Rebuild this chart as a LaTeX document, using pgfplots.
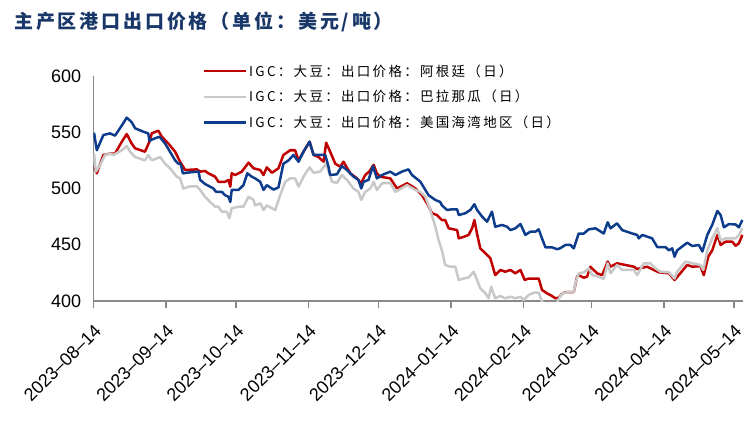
\documentclass[border=0pt]{standalone}
\usepackage{fontspec}
\setmainfont{Liberation Sans}
\newfontfamily\cjk{Noto Sans CJK SC}
\usepackage{pgfplots}
\pgfplotsset{compat=1.18}
\definecolor{arg}{RGB}{192,0,0}
\definecolor{par}{RGB}{200,200,200}
\definecolor{usg}{RGB}{14,60,140}
\definecolor{axgray}{RGB}{137,137,137}
\definecolor{ttl}{RGB}{25,55,105}

\begin{document}
\begin{tikzpicture}
\useasboundingbox (-93.3bp,-127bp) rectangle (660.7bp,301bp);
\node[anchor=west, inner sep=0pt, text=ttl] at (-79.3bp,279bp)
  {\cjk\bfseries\fontsize{19bp}{19bp}\selectfont\addfontfeature{LetterSpace=15}主产区港口出口价格（单位：美元/吨）};
\begin{axis}[
  scale only axis, width=650bp, height=225bp,
  xmin=0, xmax=278, ymin=400, ymax=600,
  axis x line*=bottom, axis y line*=left,
  axis line style={axgray, line width=1.5bp},
  xtick={0,31,61,92,122,153,184,213,244,274},
  xticklabels={2023–08–14,2023–09–14,2023–10–14,2023–11–14,2023–12–14,
    2024–01–14,2024–02–14,2024–03–14,2024–04–14,2024–05–14},
  ytick={400,450,500,550,600},
  tick align=outside, major tick length=7bp,
  xtick style={axgray, line width=1.5bp},
  ytick style={draw=none},
  xticklabel style={yshift=-15bp, rotate=45, anchor=north east, inner sep=0pt,
    font=\fontsize{18bp}{18bp}\selectfont},
  yticklabel style={inner sep=0pt, xshift=-5bp,
    font=\fontsize{18bp}{18bp}\selectfont},
  /pgf/number format/assume math mode=true,
  every axis plot/.append style={line width=2.5bp, line join=round},
  legend image code/.code={\draw[#1, line width=2.5bp] (0bp,0bp) -- (42bp,0bp);},
  legend cell align=left,
  legend style={at={(axis description cs:0.168,1.06)}, anchor=north west,
    draw=none, fill=none, inner sep=0pt, row sep=8.5bp,
    font=\cjk\fontsize{13.5bp}{13.5bp}\selectfont\addfontfeature{LetterSpace=17}},
]
% Argentina
\addplot[arg] coordinates {
(0.3,519.4) (1.5,513.5) (4.3,529.8) (7.1,531) (9.3,531) (12.2,541.6) (14.3,548.4)
(16.4,540) (17.9,535.7) (22.1,532.7) (24.3,543) (25,549) (27.8,551.4) (29.3,546)
(32.1,540) (35,532.7) (37.1,523.8) (39.3,516.4) (44.3,517) (45.7,515) (47.8,515.6)
(49.2,513.5) (52.1,510.5) (53.5,506) (56.4,506) (57.8,507.6) (58.6,501.6) (59.2,513.5)
(60.7,512) (63.5,515) (66.4,523) (68.5,518) (71.4,516.4) (72.8,512) (74.2,518.8)
(76.4,514) (79.2,518) (81.3,529.8) (84.2,534) (86.3,534) (87.8,525) (89.9,532.7)
(92.5,541.6) (94.2,529.8) (96.3,528) (98.5,523.8) (99.6,540.7) (101.3,532.7)
(103.5,522) (105.6,519.4) (107,523.8) (109.9,513.5) (112.8,509) (114.5,504.6)
(116.3,512) (118,515) (119.9,521) (121.3,513.5) (122.7,510.5) (127,509) (129.9,500)
(134.2,504.6) (136.3,502) (137.7,500) (140.6,494) (142.7,486.8) (144.9,478) (147,476.4)
(149.1,472) (150.5,472) (152,464.6) (154.1,463.7) (155.6,463) (156.3,455.7) (158.4,457)
(160.5,458.7) (162,464.6) (163,472) (164.1,460) (165.5,446.8) (167.7,442.4) (169.8,438)
(171.9,423) (174.1,427.6) (176.2,426) (178.4,427.6) (180.5,424.6) (182.7,427.6)
(184.5,418.7) (186.2,420) (188.4,420) (190.5,420) (191.9,409.8) (194.1,406.8)
(196.2,404.4) (197.6,402.4) (199.1,403) (200.5,406.8) (202.6,408) (205.5,408)
(206.9,421.6) (207.6,423) (209.8,420.7) (211.2,421.6) (212.6,430.5) (214,427.6)
(215.5,424.6) (217.6,423) (220,435) (221.2,430.5) (224,433.5) (226.2,432.6)
(231.2,430.5) (232.6,428.4) (234.8,429.6) (236.9,430.5) (239.7,427.6) (241.9,425.5)
(246.2,424.6) (248.6,418.7) (250.4,423) (254,432) (256.2,430.5) (259.7,431) (261.1,423)
(263,439.4) (264.7,445) (266.9,458.7) (268.3,449.8) (270.4,452.7) (273.3,452.7)
(274.7,449) (276.1,451.3) (277.6,458.7)
};
\addlegendentry{IGC：大豆：出口价格：阿根廷（日）}
% Paraguay
\addplot[par] coordinates {
(0.3,531) (1.1,515) (2.9,521) (5,529.8) (7.1,531) (8.6,529.8) (12.2,534) (14.3,537.8)
(15.7,532.7) (17.9,528) (22.1,525) (23.5,529.8) (25,525) (28.6,528) (30.7,522)
(32.8,518) (35.7,510.5) (37.1,509) (38.5,500) (41.4,502) (44.3,502) (45.7,498.7)
(47.8,492.7) (50,488) (52.1,483.8) (53.5,483.8) (55,479.4) (57.1,479.4) (58.2,473.5)
(59.2,482.4) (62.1,483.8) (64.2,483.8) (66.4,492.7) (68.5,489.8) (69.2,485)
(71.4,486.8) (72.8,480.9) (74.2,485) (77.8,480.9) (79.9,494) (82.1,506) (84.2,509)
(86.3,509) (87.8,501.6) (89.9,510.5) (92.5,518.8) (94.2,514) (97,515) (99.6,522)
(102.1,506) (104.2,505) (106.3,512) (108.5,507.6) (111.3,500) (113.4,497) (114.6,489.8)
(116.3,497) (118.5,500) (119.9,506) (121.3,498.7) (123.5,504.6) (127,505) (129.2,497)
(134.2,503) (137.7,498.7) (139.9,497) (142,492.7) (144.1,480.9) (146.3,466) (147.7,454)
(149.1,445) (150.5,432) (152.7,430.5) (154.8,430.5) (156.3,418.7) (158.4,420)
(160.5,421) (162.7,426) (164.1,418.7) (165.5,411.3) (167.7,406.8) (169.1,402.4)
(170.2,412.7) (171.9,402.4) (174.1,404.4) (176.2,402.4) (178.4,403.8) (180.5,402.4)
(182.7,403.8) (184.1,400.9) (186.2,405.3) (188.4,407.4) (190.5,407.4) (191.9,399.4)
(193.4,396) (196.2,395) (198,397) (199.1,402) (200.5,406.8) (203.3,408) (205.5,408)
(206.2,415.7) (207.6,424.6) (209.8,425.5) (211.9,429) (213.4,423) (216.2,421.6)
(218.3,419.6) (220,433.5) (221.2,424.6) (224,432) (226.2,427.6) (231.2,427.6)
(232.6,423) (235.4,433.5) (238.3,433.5) (240.4,429) (242.6,426) (246.2,425.5)
(248.6,420) (249.7,426) (253.3,435) (256.2,433.5) (259.7,432) (260.9,427.6)
(262.6,445) (264.7,455.7) (266.9,464.6) (268.3,454) (270.4,455.7) (274.7,455.7)
(276.1,458.7) (277.6,464.6)
};
\addlegendentry{IGC：大豆：出口价格：巴拉那瓜（日）}
% US Gulf
\addplot[usg] coordinates {
(0.3,549.6) (1.5,534) (4.3,547.5) (7.1,549) (9.3,547) (12.2,556) (14.3,563) (16.4,559)
(17.9,553.5) (21.4,550.5) (23.5,549) (24,542.5) (26.4,544.6) (28.3,546) (30.7,540)
(32.8,532.7) (35,525) (36.4,522) (37.4,522) (38.3,513.5) (41.4,514.4) (45,515)
(45.7,507.6) (47.8,504) (51.4,500) (52.5,497) (55,497) (56.4,494) (57.8,492.7)
(58.6,488) (59.2,498.7) (62.1,498.7) (64.2,503) (65.9,513.5) (67.8,510.5) (69.2,509)
(71.4,506) (72.8,498.7) (74.2,503) (77.1,499) (79.2,501) (81.3,522) (83.5,525)
(85.6,529.8) (87.8,523.8) (89.9,532.7) (92.5,541.6) (94.2,529.8) (96.3,529.8)
(99.2,529.8) (100.6,519.4) (101.3,512) (104.2,512.6) (106.3,520) (108.5,516.4)
(111.3,510.5) (113.4,507.6) (114.6,500) (115.6,506) (117.7,507.6) (119.6,520)
(121.3,509) (123.5,512) (127,515) (129.2,512) (132,515) (134.8,517) (136.3,512)
(139.9,506) (143.4,494) (146.3,489.8) (148.4,488) (149.1,485) (151.3,480.9)
(153.4,481.5) (155.6,481.5) (156.3,476.4) (159.1,478) (161.3,481) (163,486) (164.1,481)
(166.3,475) (168.4,470.5) (170.5,479.4) (171.9,466) (174.8,467.6) (177,466) (178.4,463)
(180.5,464.6) (182.7,468.4) (184.8,458.7) (186.9,461.6) (189.1,461.6) (190.5,463.7)
(191.9,455.7) (193.4,447.7) (196.2,447.7) (198.4,446) (199.8,447) (201.9,449.8)
(204.1,449.8) (205.5,446.8) (207.6,460) (209.8,460) (211.9,463.7) (214.8,464.6)
(218.3,460) (220,470) (221.2,464.6) (224,469) (226.2,463) (230.5,460) (232.6,458.7)
(233.3,455.7) (234.8,458.7) (239,455.7) (241.2,448) (244.7,448) (246.2,445)
(247.6,446.8) (248.6,439.4) (249.7,445) (254,451.8) (256.2,448.9) (259,449.8)
(260.5,444) (262.6,458.7) (264.7,467.6) (266.9,480) (268.3,476.4) (269.7,465.5)
(271.8,468.4) (274.7,468) (276.1,465.5) (277.6,472)
};
\addlegendentry{IGC：大豆：出口价格：美国海湾地区（日）}
\end{axis}
\end{tikzpicture}
\end{document}
